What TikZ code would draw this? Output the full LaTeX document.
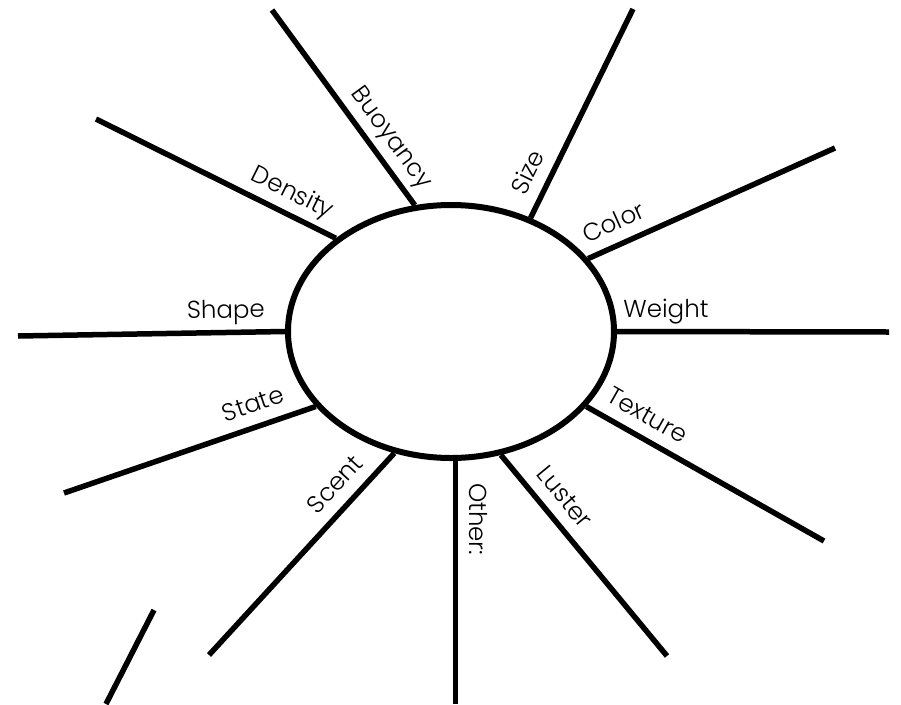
\documentclass[tikz,border=0pt]{standalone}
\usepackage{fontspec}
\usepackage{tikz}
\usetikzlibrary{shapes.geometric}
\newfontfamily\spokefont{Poppins Light}

\begin{document}
\begin{tikzpicture}[x=1pt,y=-1pt]
  \tikzstyle{hubstyle}=[draw=black, line width=6pt, ellipse, inner sep=0pt, minimum width=326pt, minimum height=253pt]
  \tikzstyle{spoke}=[draw=black, line width=5.5pt]
  \tikzstyle{spoketext}=[font=\spokefont\fontsize{24.5}{29}\selectfont, text=black, text height=0.75em, text depth=0.3em, inner xsep=1pt, inner ysep=8.5pt]

  \useasboundingbox (0,0) rectangle (901,704);

  \node[hubstyle] (hub) at (451,331.5) {};

  % spokes: angle on the hub / outer end / label / label position
  \foreach \a/\x/\y/\t/\p in {106.3/272/10/Buoyancy/0.28, 55.2/633/9/Size/0.17,
      28.2/835/148/Color/0.14, 0/889/332/Weight/0.18, -29.7/824/541/Texture/0.21,
      -68.4/667/656/Luster/0.28, 245.1/209/655/Scent/0.23, 209.6/64/493/State/0.22,
      180/18/336/Shape/0.22, 141.8/96/119/Density/0.22} {
    \coordinate (tip\t) at (\x,\y);
    \draw[spoke] (hub.\a) -- (tip\t) node[spoketext, sloped, anchor=south, pos=\p] {\t};
  }

  \coordinate (tipOther) at (455,704);
  \draw[spoke] (hub.-88) -- (hub.-88 |- tipOther) node[spoketext, rotate=-90, anchor=south, pos=0.24] {Other:};

  \coordinate (strayTop) at (154,610);
  \coordinate (strayBottom) at (106,704);
  \draw[spoke] (strayTop) -- (strayBottom);
\end{tikzpicture}
\end{document}
